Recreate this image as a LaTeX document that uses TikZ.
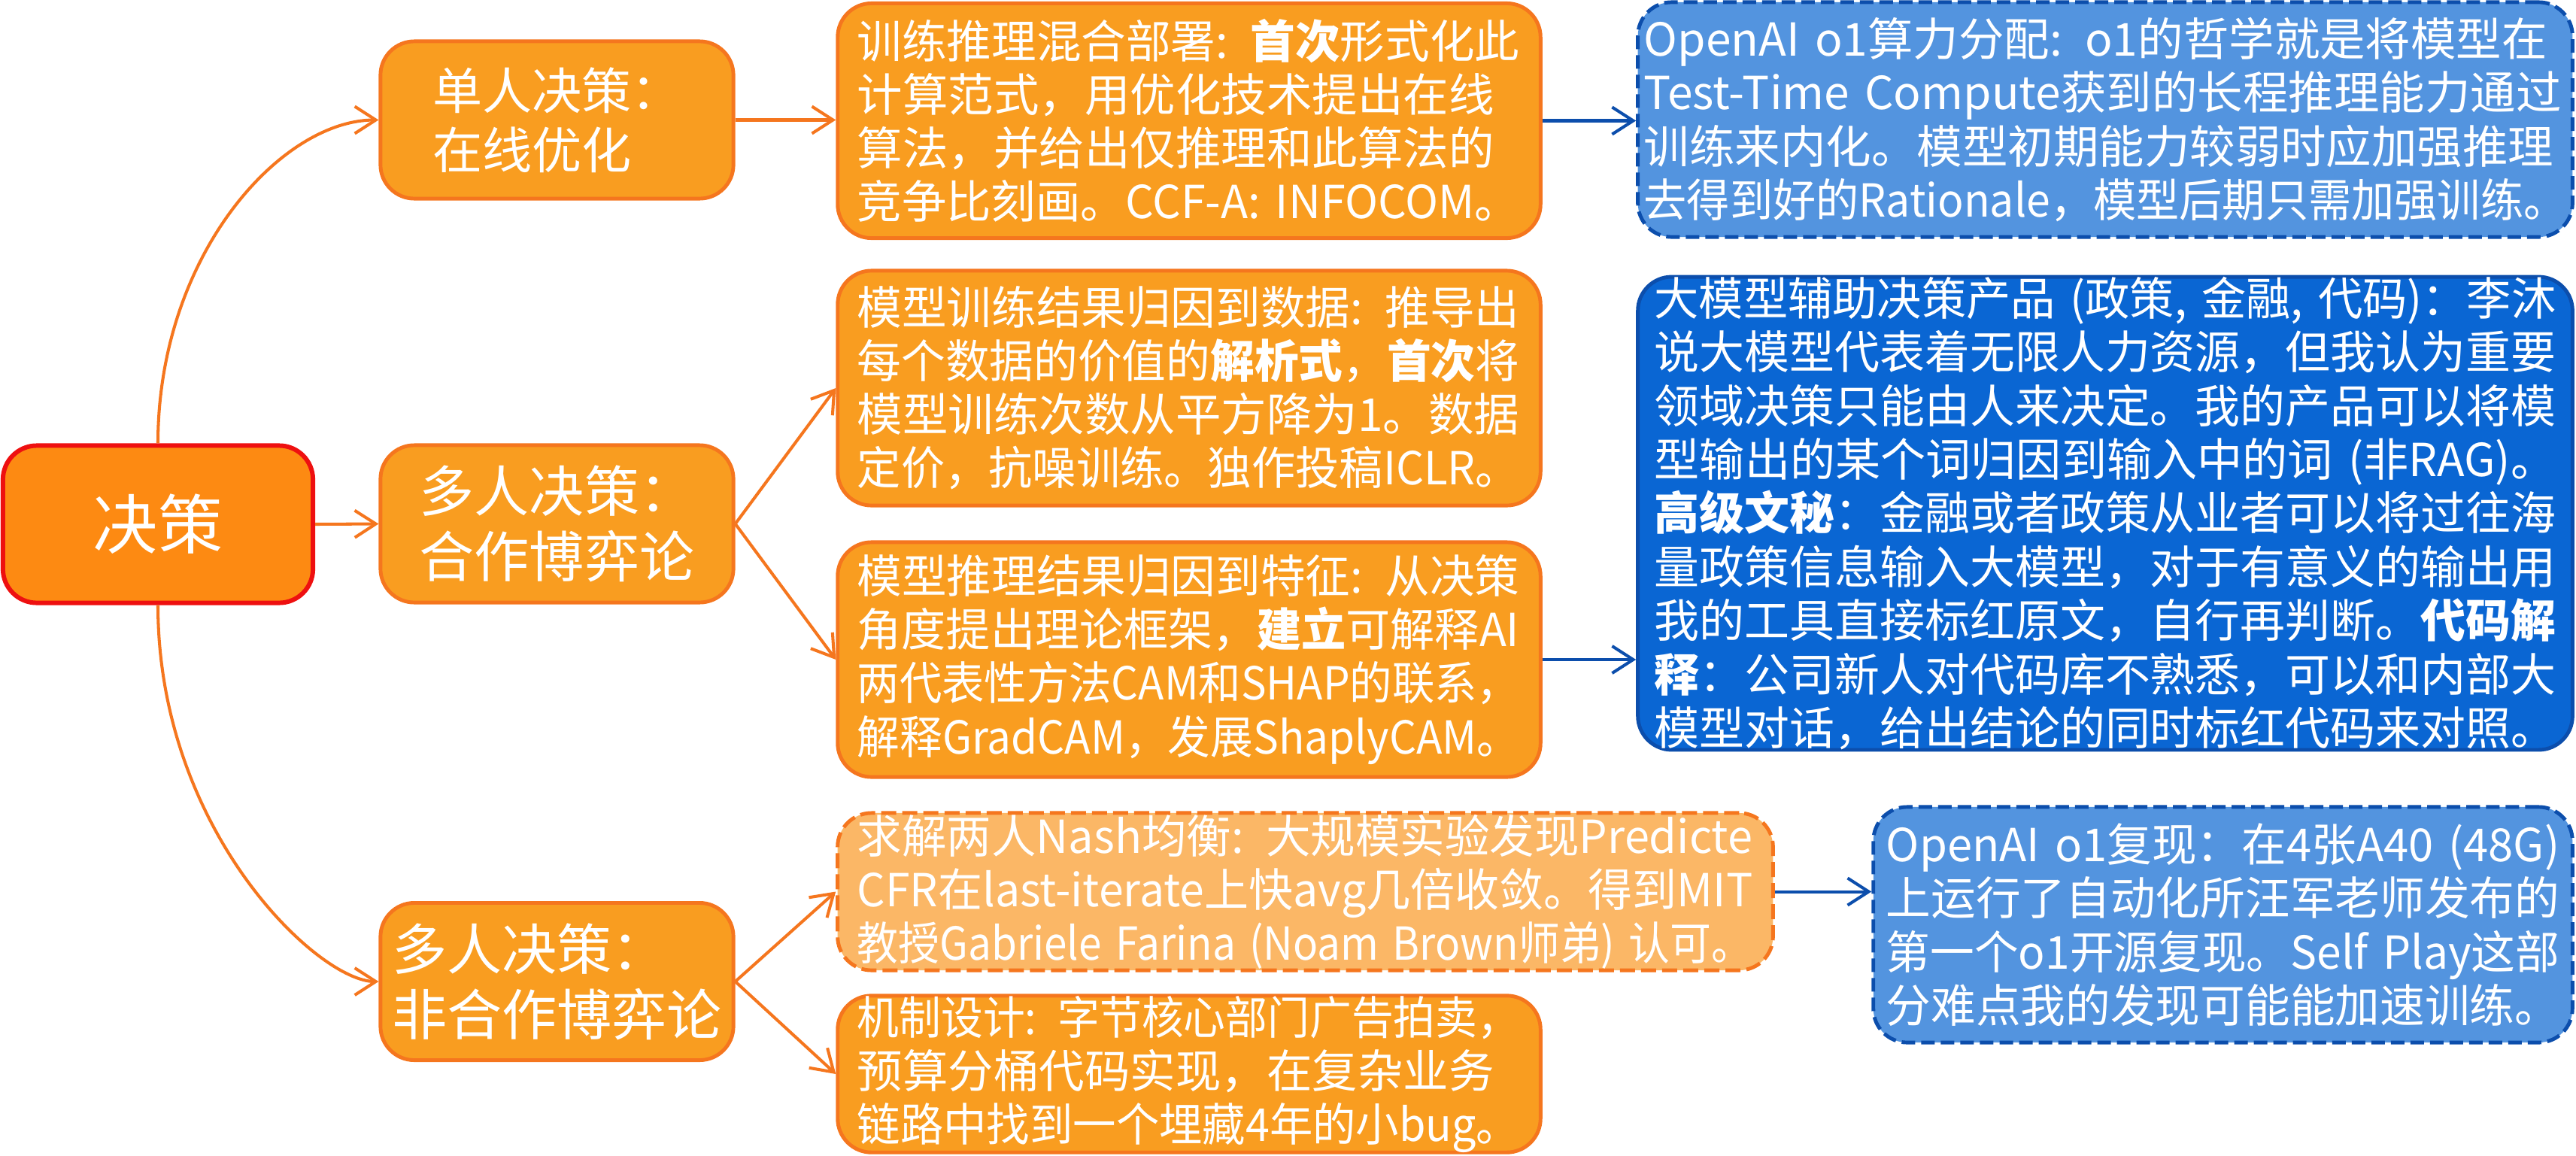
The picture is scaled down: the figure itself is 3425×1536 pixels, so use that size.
\documentclass[tikz,border=0pt]{standalone}
\usepackage{fontspec}
\usepackage{graphicx}
\setmainfont{Noto Sans CJK SC}
\usetikzlibrary{arrows.meta}
\definecolor{rootfill}{RGB}{253,138,18}
\definecolor{rootline}{RGB}{238,16,16}
\definecolor{ofill}{RGB}{249,157,32}
\definecolor{oline}{RGB}{245,118,30}
\definecolor{lofill}{RGB}{251,183,102}
\definecolor{bfill}{RGB}{83,148,223}
\definecolor{dbfill}{RGB}{10,102,211}
\definecolor{bline}{RGB}{12,78,172}
\newsavebox{\fitbox}
\newlength{\fitwd}
\setlength{\fitwd}{8.8cm}
\newcommand{\LineBox}[1]{\sbox{\fitbox}{#1}%
  \ifdim\wd\fitbox>\fitwd\relax
    \scalebox{\fpeval{\the\fitwd/\the\wd\fitbox}}[1]{\usebox{\fitbox}}%
  \else\usebox{\fitbox}\fi}
\begin{document}
\begin{tikzpicture}[x=0.01cm,y=-0.01cm,
  box/.style={rectangle, rounded corners=0.45cm, line width=1.4pt, text=white, inner ysep=0pt},
  obox/.style={box, draw=oline, fill=ofill},
  lvone/.style={obox, align=left, minimum width=4.69cm, minimum height=2.09cm, inner xsep=0pt},
  lvtwo/.style={obox, align=left, minimum height=3.12cm, inner xsep=0.26cm, text width=8.82cm,
    font=\fontsize{17.2pt}{20.2pt}\selectfont, execute at begin node={\setlength{\fitwd}{8.8cm}}},
  dashedo/.style={dash pattern=on 0.2cm off 0.08cm},
  dashedb/.style={dash pattern=on 0.18cm off 0.08cm},
  bbox/.style={box, draw=bline, align=left, font=\fontsize{17.2pt}{20.3pt}\selectfont},
  oarr/.style={draw=oline, line width=1.15pt, -{Straight Barb[length=0.28cm,width=0.36cm]}},
  barr/.style={draw=bline, line width=1.15pt, -{Straight Barb[length=0.28cm,width=0.36cm]}}
]
\useasboundingbox (0,0) rectangle (3425,1536);

% root
\node[box, draw=rootline, fill=rootfill, line width=1.7pt, minimum width=4.12cm, minimum height=2.09cm,
  font=\fontsize{24.5pt}{28pt}\selectfont] (root) at (210,697) {决策};

% level one
\node[lvone, font=\fontsize{18.8pt}{22.5pt}\selectfont] (n1) at (740.5,159.5) {单人决策：\\在线优化};
\node[lvone, font=\fontsize{20.8pt}{24.7pt}\selectfont] (n2) at (740.5,696.5) {多人决策：\\合作博弈论};
\node[lvone, font=\fontsize{20.8pt}{24.7pt}\selectfont] (n3) at (740.5,1305) {多人决策：\\非合作博弈论};

% level two
\node[lvtwo] (a1) at (1581,160.5) {%
\LineBox{训练推理混合部署: \textbf{首次}形式化此}\\
\LineBox{计算范式，用优化技术提出在线}\\
\LineBox{算法，并给出仅推理和此算法的}\\
\LineBox{竞争比刻画。CCF-A: INFOCOM。}};
\node[lvtwo] (a2) at (1581,516) {%
\LineBox{模型训练结果归因到数据: 推导出}\\
\LineBox{每个数据的价值的\textbf{解析式}，\textbf{首次}将}\\
\LineBox{模型训练次数从平方降为1。数据}\\
\LineBox{定价，抗噪训练。独作投稿ICLR。}};
\node[lvtwo] (a3) at (1581,877) {%
\LineBox{模型推理结果归因到特征: 从决策}\\
\LineBox{角度提出理论框架，\textbf{建立}可解释AI}\\
\LineBox{两代表性方法CAM和SHAP的联系，}\\
\LineBox{解释GradCAM，发展ShaplyCAM。}};
\node[lvtwo, fill=lofill, dashedo, minimum height=2.09cm, text width=11.91cm,
  execute at begin node={\setlength{\fitwd}{11.9cm}}] (a4) at (1735.5,1185.5) {%
\LineBox{求解两人Nash均衡: 大规模实验发现Predicte}\\
\LineBox{CFR在last-iterate上快avg几倍收敛。得到MIT}\\
\LineBox{教授Gabriele Farina (Noam Brown师弟) 认可。}};
\node[lvtwo, minimum height=2.08cm] (a5) at (1581,1428) {%
\LineBox{机制设计: 字节核心部门广告拍卖，}\\
\LineBox{预算分桶代码实现，在复杂业务}\\
\LineBox{链路中找到一个埋藏4年的小bug。}};

% level three (blue)
\node[bbox, fill=bfill, dashedb, minimum height=3.12cm, inner xsep=0.08cm, text width=12.26cm,
  execute at begin node={\setlength{\fitwd}{12.26cm}}] (b1) at (2799,159) {%
\LineBox{OpenAI o1算力分配: o1的哲学就是将模型在}\\
\LineBox{Test-Time Compute获到的长程推理能力通过}\\
\LineBox{训练来内化。模型初期能力较弱时应加强推理}\\
\LineBox{去得到好的Rationale，模型后期只需加强训练。}};
\node[bbox, fill=dbfill, minimum height=6.25cm, inner xsep=0.22cm, text width=11.98cm,
  execute at begin node={\setlength{\fitwd}{11.98cm}}] (b2) at (2799,682.5) {%
\LineBox{大模型辅助决策产品 (政策, 金融, 代码)：李沐}\\
\LineBox{说大模型代表着无限人力资源，但我认为重要}\\
\LineBox{领域决策只能由人来决定。我的产品可以将模}\\
\LineBox{型输出的某个词归因到输入中的词 (非RAG)。}\\
\LineBox{\textbf{高级文秘}：金融或者政策从业者可以将过往海}\\
\LineBox{量政策信息输入大模型，对于有意义的输出用}\\
\LineBox{我的工具直接标红原文，自行再判断。\textbf{代码解}}\\
\LineBox{\textbf{释}：公司新人对代码库不熟悉，可以和内部大}\\
\LineBox{模型对话，给出结论的同时标红代码来对照。}};
\node[bbox, fill=bfill, dashedb, minimum height=3.13cm, inner xsep=0.17cm, text width=8.95cm,
  execute at begin node={\setlength{\fitwd}{8.95cm}}] (b3) at (2955.5,1229.5) {%
\LineBox{OpenAI o1复现：在4张A40 (48G)}\\
\LineBox{上运行了自动化所汪军老师发布的}\\
\LineBox{第一个o1开源复现。Self Play这部}\\
\LineBox{分难点我的发现可能能加速训练。}};

% connectors
\draw[oarr] (root.north) .. controls +(0,-250) and +(-130,0) .. (n1.west);
\draw[oarr] (root.east) -- (n2.west);
\draw[oarr] (root.south) .. controls +(0,300) and +(-80,0) .. (n3.west);
\draw[oarr] (n1.east) -- (n1.east -| a1.west);
\draw[oarr] (n2.east) -- (a2.west);
\draw[oarr] (n2.east) -- (a3.west);
\draw[oarr] (n3.east) -- (a4.west);
\draw[oarr] (n3.east) -- (a5.west);
\draw[barr] (a1.east) -- (a1.east -| b1.west);
\draw[barr] (a3.east) -- (a3.east -| b2.west);
\draw[barr] (a4.east) -- (a4.east -| b3.west);
\end{tikzpicture}
\end{document}
